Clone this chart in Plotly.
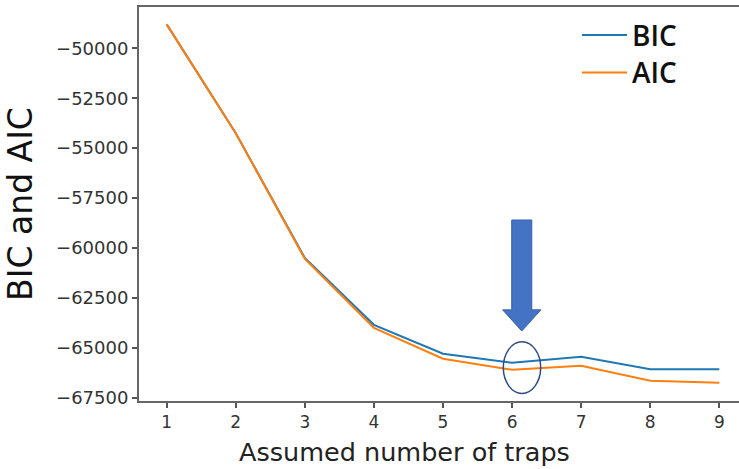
import plotly.graph_objects as go

traps = [1, 2, 3, 4, 5, 6, 7, 8, 9]
bic = [-48800, -54250, -60500, -63850, -65300, -65750, -65450, -66070, -66070]
aic = [-48800, -54250, -60550, -64000, -65550, -66100, -65900, -66650, -66750]
y_ticks = [-50000, -52500, -55000, -57500, -60000, -62500, -65000, -67500]
y_tick_text = ["\u221250000", "\u221252500", "\u221255000", "\u221257500",
               "\u221260000", "\u221262500", "\u221265000", "\u221267500"]

# highlight (arrow + ellipse) around the chosen model
pick_x = 6.14
arrow_top, arrow_neck, arrow_tip = -58600, -63100, -64160
shaft_hw, head_hw = 0.145, 0.277
ell_x0, ell_x1, ell_y0, ell_y1 = 5.873, 6.414, -67285, -64700

fig = go.Figure()
fig.add_trace(go.Scatter(x=traps, y=bic, mode="lines", name="BIC",
                         line=dict(color="#1f77b4", width=2), legend="legend"))
fig.add_trace(go.Scatter(x=traps, y=aic, mode="lines", name="AIC",
                         line=dict(color="#ff7f0e", width=2), legend="legend2"))

arrow_path = (
    f"M {pick_x - shaft_hw},{arrow_top} L {pick_x + shaft_hw},{arrow_top} "
    f"L {pick_x + shaft_hw},{arrow_neck} L {pick_x + head_hw},{arrow_neck} "
    f"L {pick_x},{arrow_tip} L {pick_x - head_hw},{arrow_neck} "
    f"L {pick_x - shaft_hw},{arrow_neck} Z"
)
fig.add_shape(type="path", path=arrow_path, xref="x", yref="y",
              fillcolor="#4472C4", line=dict(color="#3a5fa8", width=1))
fig.add_shape(type="circle", xref="x", yref="y",
              x0=ell_x0, x1=ell_x1, y0=ell_y0, y1=ell_y1,
              line=dict(color="#2f4b86", width=1.5))

fig.add_annotation(text="Assumed number of traps", xref="paper", yref="paper",
                   x=0.4417, y=-0.129, xanchor="center", yanchor="middle",
                   showarrow=False,
                   font=dict(family="DejaVu Sans", size=25.5, color="#222222"))

legend_style = dict(xanchor="left", yanchor="middle", bgcolor="rgba(0,0,0,0)",
                    font=dict(family="Open Sans", size=28, color="#111111",
                              weight=600),
                    itemwidth=45)

fig.update_layout(
    width=739, height=469,
    margin=dict(l=139, r=0, t=7, b=68),
    paper_bgcolor="white", plot_bgcolor="white",
    font=dict(family="DejaVu Sans", color="#333333"),
    showlegend=True,
    legend=dict(x=0.73, y=0.928, **legend_style),
    legend2=dict(x=0.73, y=0.833, **legend_style),
    xaxis=dict(range=[0.599, 9.285], tickmode="array", tickvals=traps,
               ticks="outside", ticklen=5, tickwidth=1.5, tickcolor="#555555",
               showline=True, linecolor="#666666", linewidth=2, mirror=True,
               showgrid=False, zeroline=False,
               tickfont=dict(size=17, color="#333333")),
    yaxis=dict(range=[-67665, -47931], tickmode="array", tickvals=y_ticks,
               ticktext=y_tick_text,
               ticks="outside", ticklen=5, tickwidth=1.5, tickcolor="#555555",
               showline=True, linecolor="#666666", linewidth=2, mirror=False,
               showgrid=False, zeroline=False,
               tickfont=dict(size=18, color="#333333"),
               title=dict(text="BIC and AIC", standoff=14,
                          font=dict(family="DejaVu Sans", size=33, color="#111111"))),
)

fig.write_html("out.html")
